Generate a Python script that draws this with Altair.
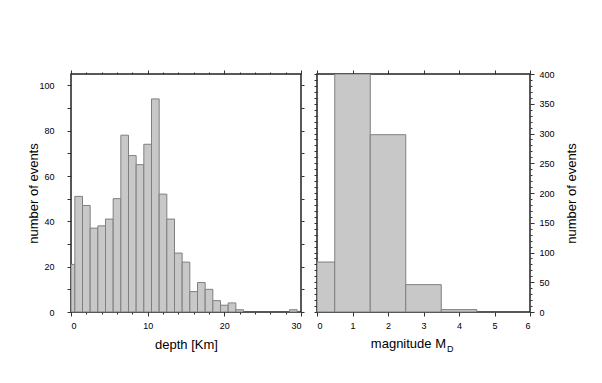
import altair as alt
import pandas as pd

# ---- data ----
depth_centers = list(range(30))
depth_counts = [21, 51, 47, 37, 38, 41, 50, 78, 69, 65, 74, 94, 52, 41, 26,
                22, 9, 13, 10, 5, 3, 4, 1, 0, 0, 0, 0, 0, 0, 1]
mag_edges = [0, 0.5, 1.5, 2.5, 3.5, 4.5]
mag_counts = [84, 400, 298, 46, 4]

depth_ticks_major = [0, 10, 20, 30]
depth_ticks_minor = list(range(0, 31, 2))
depth_y_ticks = list(range(0, 101, 10))
mag_x_ticks = [0, 1, 2, 3, 4, 5, 6]
mag_y_major = list(range(0, 401, 50))
mag_y_minor = list(range(0, 401, 10))

df_depth = pd.DataFrame({
    "start": [max(c - 0.5, 0) for c in depth_centers],
    "end": [c + 0.5 for c in depth_centers],
    "count": depth_counts,
})
df_depth = df_depth[df_depth["count"] > 0]
df_mag = pd.DataFrame({"start": mag_edges[:-1], "end": mag_edges[1:], "count": mag_counts})

FONT = "Liberation Sans"
TICK = "#333333"
FILL = "#c8c8c8"
EDGE = "#7f7f7f"
W1, W2, H = 230, 213, 238


def ax(**kw):
    base = dict(domain=False, grid=False, tickColor=TICK, tickWidth=1,
                labelFont=FONT, labelFontSize=9, labelColor="black",
                titleFont=FONT, titleFontSize=13, titleFontWeight="normal",
                titleColor="black", labels=False, title=None)
    base.update(kw)
    return alt.Axis(**base)


xs_d = alt.Scale(domain=[0, 30], nice=False, zero=False)
ys_d = alt.Scale(domain=[0, 105], nice=False)
xs_m = alt.Scale(domain=[0, 6], nice=False, zero=False)
ys_m = alt.Scale(domain=[0, 400], nice=False)


def bars(df, xs, ys, xaxis, yaxis, opacity=1.0):
    return alt.Chart(df).mark_rect(fill=FILL, stroke=EDGE, strokeWidth=1,
                                   clip=True, opacity=opacity).encode(
        x=alt.X("start:Q", scale=xs, axis=xaxis),
        x2="end:Q",
        y=alt.Y("count:Q", scale=ys, axis=yaxis),
        y2=alt.datum(0),
    )


# ---- left panel: depth ----
l1 = bars(df_depth, xs_d, ys_d,
          ax(orient="bottom", values=depth_ticks_major, tickSize=4, labels=True,
             labelPadding=5, title="depth [Km]", titleX=W1 / 2, titleY=36,
             titleAlign="center", titleBaseline="alphabetic"),
          ax(orient="left", values=depth_y_ticks, tickSize=4, labels=True,
             labelExpr="datum.value % 20 == 0 ? datum.label : ''",
             labelPadding=13, title="number of events", titleX=-38, titleY=H / 2,
             titleAngle=270, titleAlign="center", titleBaseline="middle"))
l2 = bars(df_depth, xs_d, ys_d,
          ax(orient="bottom", values=depth_ticks_minor, tickSize=2),
          ax(orient="right", values=depth_y_ticks, tickSize=3), 0)
l3 = bars(df_depth, xs_d, ys_d,
          ax(orient="top", values=depth_ticks_minor, tickSize=2), None, 0)
l4 = bars(df_depth, xs_d, ys_d,
          ax(orient="top", values=depth_ticks_major, tickSize=4), None, 0)
left = alt.layer(l1, l2, l3, l4).resolve_axis(x="independent", y="independent").properties(
    width=W1, height=H)

# ---- right panel: magnitude ----
r1 = bars(df_mag, xs_m, ys_m,
          ax(orient="bottom", values=mag_x_ticks, tickSize=4, labels=True,
             labelPadding=5),
          ax(orient="right", values=mag_y_major, tickSize=4, labels=True,
             labelPadding=5, title="number of events", titleX=41, titleY=H / 2,
             titleAngle=270, titleAlign="center", titleBaseline="middle"))
r2 = bars(df_mag, xs_m, ys_m,
          ax(orient="top", values=mag_x_ticks, tickSize=4),
          ax(orient="right", values=mag_y_minor, tickSize=2), 0)
r3 = bars(df_mag, xs_m, ys_m, None,
          ax(orient="left", values=mag_y_minor, tickSize=3), 0)
t_main = alt.Chart(pd.DataFrame({"t": ["magnitude M"]})).mark_text(
    font=FONT, fontSize=13, align="right", baseline="alphabetic", color="black").encode(
    x=alt.value(129), y=alt.value(H + 36), text="t:N")
t_sub = alt.Chart(pd.DataFrame({"t": ["D"]})).mark_text(
    font=FONT, fontSize=9, align="left", baseline="alphabetic", color="black").encode(
    x=alt.value(130), y=alt.value(H + 40), text="t:N")
right = alt.layer(r1, r2, r3, t_main, t_sub).resolve_axis(
    x="independent", y="independent").properties(width=W2, height=H)

chart = alt.hconcat(left, right, spacing=16, bounds="flush").properties(
    padding={"left": 18, "top": 60, "right": 5, "bottom": 5}
).configure_view(stroke="#222222", strokeWidth=1.5)

chart.save("out.html", embed_options={"renderer": "svg", "actions": False})
